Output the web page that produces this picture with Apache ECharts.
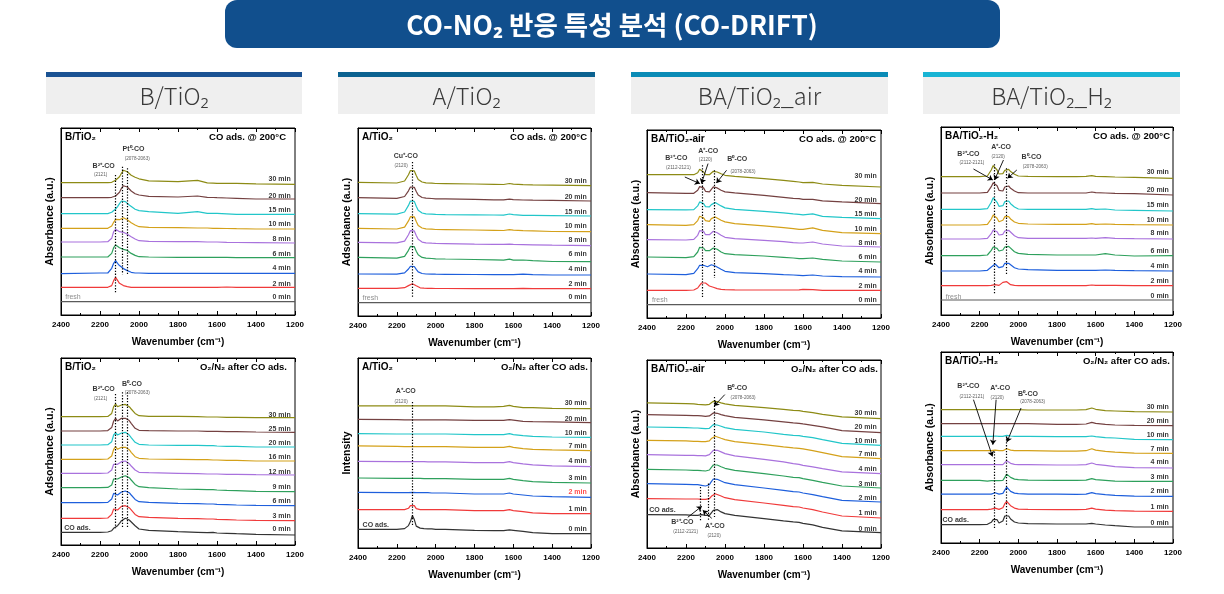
<!DOCTYPE html>
<html><head><meta charset="utf-8">
<script src="https://cdn.jsdelivr.net/npm/echarts@6/dist/echarts.min.js"></script>
<style>html,body{margin:0;padding:0;background:#fff}#c{width:1224px;height:594px}</style>
</head><body><div id="c"></div>
<script>
// ---------------- DATA ----------------
// shared wavenumber grid (cm-1)
const W = [2400,2200,2160,2140,2130,2120,2110,2100,2090,2080,2070,2060,2050,2040,2020,2000,1950,1800,1700,1650,1620,1600,1550,1500,1400,1200];
const xTickStep = 200;

const topTimes = ['0 min','2 min','4 min','6 min','8 min','10 min','15 min','20 min','30 min'];
const p5Times  = ['0 min','3 min','6 min','9 min','12 min','16 min','20 min','25 min','30 min'];
const airTimes = ['0 min','1 min','2 min','3 min','4 min','7 min','10 min','20 min','30 min'];

const headerLabels = ['B/TiO₂','A/TiO₂','BA/TiO₂_air','BA/TiO₂_H₂'];
const panelNames = ['B/TiO₂','A/TiO₂','BA/TiO₂-air','BA/TiO₂-H₂','B/TiO₂','A/TiO₂','BA/TiO₂-air','BA/TiO₂-H₂'];
const panelConds = ['CO ads. @ 200°C','CO ads. @ 200°C','CO ads. @ 200°C','CO ads. @ 200°C',
  'O₂/N₂ after CO ads.','O₂/N₂ after CO ads.','O₂/N₂ after CO ads.','O₂/N₂ after CO ads.'];
const yNames = ['Absorbance (a.u.)','Adsorbance (a.u.)','Absorbance (a.u.)','Absorbance (a.u.)',
  'Adsorbance (a.u.)','Intensity','Absorbance (a.u.)','Absorbance (a.u.)'];
const leftTexts = ['fresh','fresh','fresh','fresh','CO ads.','CO ads.','CO ads.','CO ads.'];

// trace baselines (a.u., stacking offsets, bottom -> top)
const p1Off = [13.3,27.7,41.7,57.3,72,86,100.7,116,130.7];
const p2Off = [13.3,27.3,41,54.3,70.3,84.3,100,115,130.3];
const p3Off = [13.4,27.7,41,56,71,84.4,99.4,114.4,131];
const p4Off = [15,29.3,44,59.3,76,90,104,120,136.7];
const p5Off = [10,24.3,39.3,53.3,70,84,98,112.7,127.3];
const p6Off = [14.4,34.4,50.7,65,81.4,97.4,110.7,125.4,139.4];
const p7Off = [15.4,30,46,60,74.4,89.4,102.7,115.4,129.4];
const p8Off = [16,31.6,46.6,61.6,75,89.6,103.3,117.3,131];

// time label heights (a.u.)
const p1LabY = [18.3,31,46.7,61,75.7,91,104.7,119.3,135.7];
const p2LabY = [18.7,32,47,61.7,76.3,90,104.3,119,135.3];
const p3LabY = [18.4,32,47,61,75.4,89.4,103.7,118.4,142];
const p4LabY = [19,34,49.3,64,81.7,94.7,110,124.7,142.7];
const p5LabY = [16,29,44,58.3,72.7,87.7,102.3,116,130];
const p6LabY = [19.4,39.4,56,70.4,86.7,102,115,129.4,145];
const p7LabY = [19.4,35.4,50,64.4,79.4,94,107.4,121,135.4];
const p8LabY = [19.6,35.6,51.6,66,80.6,94.3,108.3,121.6,136];

// spectra (absorbance above baseline, one row per time, bottom -> top)
const p1Spec = [
 [0,0,0,0,0,0,0,0,0,0,0,0,0,0,0,0,0,0,0,0,0,0,0,0,0,0],
 [0,0,0,1.7,6.7,10,8,4,2.3,1.7,1,0.7,0.3,0,0,0,0,0,0,0,0,0,0.3,0,0,0],
 [-0.3,0.3,0.3,5,10,12.7,10,7.7,5.7,4.7,3.3,2.7,1.7,1,0.3,0.3,0,0,0,0,0,0,0,0,0,0],
 [0.7,0.7,0.7,4.3,10,12.7,10.7,10,9.3,8.3,8,7.3,6,4.3,2.3,1,0.7,0.3,0.3,0.3,0.3,0.3,0.3,0,0,0],
 [1,1,1.3,4.7,11.3,13.7,12,11.3,11,10.7,10,8.7,7.5,6.3,4,2.3,1.7,1.3,1.3,1,1,1,0.7,0.5,0.3,0],
 [0.7,0.7,0.7,3,6.7,9.7,8,9.3,10.7,11.3,10.7,9.3,8,6.3,4,2.3,1.7,1.3,1,1,0.7,0.7,0.5,0.3,0,0],
 [0.7,0.7,0.7,2,2.7,5.3,7.7,10.7,13.3,14,12.7,11,9.3,7.3,5,3.7,2.7,1,2.7,1,1,1,0.5,0,0,0],
 [1.3,1.3,1.3,1.7,2,3,4.5,6.7,10.7,13.3,13.3,12,10,8,5.3,4,2.7,2,3,1.7,1.5,1.3,1,0.7,0,0],
 [1.7,1.7,1.7,2,2.7,4,6,7.5,11,14,14,12.5,11,9,7,5.5,3.5,2.7,4,1.5,1.2,1,1,1,0.5,0]
];
const p2Spec = [
 [0,0,0,0,0,0,0,0,0,0,0,0,0,0,0,0,0,0,0,0,0,0,0,0,0,0],
 [0.3,0.3,1,3.1,4.5,5,4.4,2.9,1.5,0.9,0.6,0.5,0.4,0.3,0.3,0.2,0.2,0.1,0.1,0.1,0.1,0.1,0.4,0.1,0,0],
 [1,0.8,2.1,6,8.6,9.5,8.5,5.6,3.1,2,1.5,1.2,1,1,0.9,0.8,0.7,0.5,0.4,0.4,0.4,0.4,0.9,0.3,0,0],
 [4.3,3.6,5.4,11.4,15.3,16.6,15,10.5,6.9,5.1,4.3,3.9,3.6,3.4,3.2,2.9,2.7,2.2,1.8,1.6,2.5,1.6,1.7,1.1,0.2,0],
 [3.3,2.8,4.6,10.9,15.1,16.4,14.8,10.3,6.4,4.6,3.6,3.1,2.9,2.7,2.5,2.3,2.1,1.5,1.4,1.3,1.6,1.3,1.1,0.9,0.5,0],
 [3.3,2.7,4.6,10.8,15,16.3,14.9,10.3,6.2,4.5,3.7,3.2,2.9,2.7,2.5,2.2,2.1,1.7,1.4,1.2,2,1.5,1,0.8,0.2,0],
 [2.3,1.9,4,10.6,15,16.5,14.6,9.8,5.8,3.9,3,2.6,2.2,2,1.9,1.6,1.4,1.2,1,0.9,2,1.3,0.7,0.6,0.4,0],
 [3.3,2.7,4.5,10.2,14,15.2,13.7,9.5,6,4.3,3.5,3.2,2.8,2.7,2.5,2.2,2.1,1.7,1.2,1.2,1.8,1.4,1,0.8,0.6,0],
 [3.3,2.7,4.7,11,15.2,16.5,14.8,10.2,6.3,4.5,3.7,3.2,2.9,2.7,2.5,2.2,2.1,1.7,1.4,1.2,2.2,1.6,1,0.8,0.6,0]
];
const p3Spec = [
 [0,0,0,0,0,0,0,0,0,0,0,0,0,0,0,0,0,0,0,0,0,0,0,0,0,0],
 [0,0,0.3,2.3,5,7.3,8.3,7.3,5.7,4.3,3.7,3,2.3,1.7,1,0.7,0.5,0.3,0.3,0.3,0.5,1,0.7,0,0,0],
 [3,2.3,3.7,8.3,11.7,12.3,11.7,11,10.3,11,12.3,12.3,11,9.7,7.7,5.7,4.3,3.3,2.3,2,1.7,1.3,2,1,0.3,0],
 [5,4.3,5.3,10,14.7,16,14,11.3,10,11.3,13.3,14,14,12.7,10,8.3,7.3,6,4.7,4,3.3,3.3,4,2.7,1,0],
 [7.3,7,7.7,11.7,16.3,17.7,15.7,12.3,11,12.3,14.3,15.7,15.7,14.3,11.7,9.7,8.3,6.7,5.3,4.3,4,4,5,3,1,0],
 [9,8.3,9,13,17.3,18.3,15.7,13,11.7,12.3,15,16.7,16.7,15.7,13.3,11.7,10,7.7,6,5,4.3,4.3,5.7,3.3,1,0],
 [9,8.7,9,12.7,16.7,17.3,15,12,10.7,11.7,14,16,16,15,12.7,10.7,9.3,7.3,5.7,4.7,4.3,3.7,4.7,2.3,1.3,0],
 [11,10.3,10.3,13.3,17,18,15.7,12.3,11,11.7,14.3,16.7,17,15.7,13.3,11.7,10.7,8.3,6.3,5.3,5,4.3,4.3,2.7,1.7,0],
 [12.3,12.3,12.3,14.3,17.7,18.3,15,12.3,11.3,12.3,14.3,15.7,15.7,15,13.3,11.7,10.7,8.3,6.7,5.7,5,4.3,4.7,3,1.7,0]
];
const p4Spec = [
 [0,0,0,0,0,0,0,0,0,0,0,0,0,0,0,0,0,0,0,0,0,0,0,0,0,0],
 [0,0,0,0.3,1,1,0.3,0.3,0.7,3.3,5,4,2,1,0.3,0,0,0,0,0,0.7,0.3,0.3,0.3,0,0],
 [0,0,0.7,4,6,7,5.3,3.3,2.7,4.3,7.7,8.7,7.7,6,3.3,2,1.3,0.7,0.7,0.7,0.7,0.7,1,0.7,0.3,0],
 [0,0,0.7,5.3,8.7,9.7,7.3,4.7,4,5.7,8.7,9.7,9.3,7.3,4,2.3,1.3,0.7,0.7,0.7,0.7,0.7,2,0.7,-0.3,0],
 [0,0,0.7,5.3,9,10,7.3,4,3.3,4.7,8,9,8.7,6.7,3.3,1.3,0.7,0.7,0.7,0.7,1,0.7,1.3,0.7,0.3,0],
 [0,0,0.7,6,10,10.7,6.7,3.3,2.7,4.7,8.3,9.3,8.3,6,3,1.7,1,0.7,0.7,0.7,1.3,0.7,1,0.7,0.3,0],
 [1.7,1.7,2.3,8.7,13.3,14.3,8.7,4.7,3.7,5.3,9.3,10.7,10,7.3,4,2,1.7,1.7,1.7,1.7,2.3,1.7,2,1,0.7,0],
 [2,2,2.7,8.3,12.3,13.3,9.3,4.7,2.7,4,8,10,9,6.7,4,2.3,2,2,2,2,3,2.3,2,1.7,1.3,0],
 [1.7,1.7,2.3,8.3,12.7,13.3,8.3,4.3,3.3,4.7,8,9.3,9,6.7,4,2.3,2,1.7,1.7,2,2.7,2,1.7,1.3,1,0]
];
const p5Spec = [
 [2.7,2.7,3,4.3,6.7,8.7,9.3,11.7,14.3,16,16.7,16,15,13.3,9.3,6,4.7,3.3,2.7,2.3,2.7,2,1.7,1.3,0.7,0],
 [2.3,2.3,2.7,6.3,11.7,13,10.7,12.3,14.3,15.7,15,14,13,11,6.3,4,3.3,2.3,2,1.7,1.7,1.3,1,0.7,0.3,0],
 [3,3,3.3,6.7,12.3,13.3,10.7,12,13.7,14.7,14.7,14,13,10.7,6.3,4,3.3,2.3,2,1.7,1.7,1.3,1,0.7,0.3,0],
 [4,4,4.3,6.7,12.7,14,12.7,13.3,14.7,15.7,16,15.3,14,11.7,7.3,5,4,2.7,2.3,2,2,1.7,1.3,1,0.3,0],
 [1.7,1.7,2,5,10.7,12.7,10.7,11.7,13.3,14.3,14,12.7,11.3,9,5,2.7,2.3,1.7,1.3,1,1,1,0.7,0.7,0.3,0],
 [1.7,1.7,2,5,11.7,14.3,11.7,12.7,13.7,14.3,13.7,12.7,11.3,8.7,4.3,2.7,2,1.7,1.3,1.3,1,1,0.7,0.7,0,0],
 [2,2,2.3,5.3,12,14.3,12,12.7,14,14.7,14.7,13.7,12,9.3,4.7,2.7,2,1.7,1.7,1.3,1.3,1,0.7,0.7,0,0],
 [1.3,1.3,1.7,4.7,11.3,14,11.3,12.3,14,14.7,14,13,11.7,9,4,2,1.7,1.3,1.3,1,1,1,0.7,0.7,0.3,0],
 [1,1,1.3,4.3,11,13.7,11,11.7,12.7,13.3,13.3,12.7,11,8.7,4.3,2,1.3,1.3,1,0.7,0.7,0.7,0.3,0.3,0,0]
];
const p6Spec = [
 [4.3,4.3,5,8,12,18,14,7.5,6,5.5,5.3,5,5,4.7,4.7,4.3,4.3,3.3,3,3,3.7,3.3,2.3,1,0,0],
 [4,4,4,5.3,8,10,8,5,4,4,4,4,4,4,4,4,4,3,3,3,4,3,2,0.7,0,0],
 [5,4.7,4.7,4.7,4.7,5,4.7,4.7,4.7,4.7,4.7,4.7,4.7,4.7,4.3,4.3,4.3,3.3,3.3,3.3,4.3,3.3,2.3,1.3,0.7,0],
 [5,4.7,4.7,4.7,4.7,4.7,4.7,4.7,4.7,4.7,4.7,4.3,4.3,4.3,4.3,4.3,4.3,3.7,3.7,3.7,4.7,3.7,2.3,1.3,0.7,0],
 [5.3,5,5,5,5,5,5,5,5,5,5,5,4.7,4.7,4.7,4.7,4.7,4,4,4,5,4,2.7,1.7,0.7,0],
 [4.7,4.3,4,4,4,4,4,4,4,4,4,4,4,4,4,4,4,3.3,3.3,3.3,4.3,3.3,2,1.3,0.7,0],
 [3.7,3.3,3.3,3.3,3.3,3.3,3.3,3.3,3.3,3.3,3.3,3.3,3.3,3.3,3.3,3.3,3.3,2.7,2.7,2.7,3.7,2.7,1.7,1,0.3,0],
 [3.3,3,2.7,2.7,2.7,2.7,2.7,2.7,2.7,2.7,2.7,2.7,2.7,2.7,2.7,2.7,2.7,2.3,2.3,2.3,3,2.5,1.3,1,0.7,0],
 [2.7,2.7,2.7,2.7,2.7,2.8,2.7,2.7,2.7,2.7,2.7,2.7,2.7,2.7,2.7,2.7,2.7,1.7,1.7,2.2,3.3,2.3,1,1,0.3,0]
];
const p7Spec = [
 [18,17.7,17.3,17.3,17.7,18,17.7,17.3,17,17.3,19.3,22.3,24,23,20.7,19,17.3,14,11.7,10.7,10.3,9.3,7.7,5.3,1.7,0],
 [19.3,19,19,19,19,18.7,18.7,18.7,18.7,19.3,21.7,23.7,24.3,23.7,22,20.3,18.3,15,12.7,11.3,11,10,8.3,6,2,0],
 [18.3,17.7,17.3,17.3,17,16.7,16.3,16,16.3,17.3,20.3,23,23.3,22.7,21,19.3,17.3,14,11.7,10.3,10,9,7.3,5.3,1.7,0],
 [18.7,18,17.7,17.7,17.7,17.3,17.3,17,17,18,20.7,23,23.7,23,21.3,19.7,17.7,14.3,12,10.7,10.3,9.3,7.7,5.7,2,0],
 [19,18.3,18.3,18,18,18,17.7,17.7,18,19,21,23.3,24,23.3,21.7,20,17.7,14.3,11.7,10,9.3,8.3,6.7,5,1.7,0],
 [18.3,17.7,17.3,17.3,17.3,17,17,17,17,17.7,20,22,22.3,21.7,20.3,19,17,14,11.7,10.7,10.3,9.7,8,6,2,0],
 [18.3,17.7,17.3,17.3,17.3,17,17,16.7,16.7,17,19,20.7,21,20.3,19,17.7,16,13.3,11,10,9.7,9,7.7,5.7,2,0],
 [18,17.3,17,17,17,16.7,16.7,16.3,16.3,16.7,18.3,19.7,20,19.3,18,17,15.3,12.7,10.7,9.7,9.3,8.7,7.3,5.7,2,0],
 [15.7,15,14.7,14.3,14.3,14,14,13.7,13.7,14.3,16,17.3,17.7,17,15.7,14.7,13.3,11,9.3,8.3,8,7.3,6,4.3,1.7,0]
];
const p8Spec = [
 [2.3,2.3,2.7,4.7,7.3,9,7.3,4,3,6,11,13,11,8,5,4,3.3,3,3,3,3.7,3,2,1.3,0,0],
 [1.7,1.7,1.7,2.3,3,3.3,2.7,2,2.3,3.7,7.7,10,8.3,5.7,3.3,2.3,2,1.7,1.7,2,3.3,2.3,1.3,0.7,0.3,0],
 [2.3,2.3,2.3,2.3,2.7,3.7,3,2.3,2.3,3,6.3,9.3,7.7,5,3.3,2.7,2.3,2.3,2,2.3,3.7,2.7,1.7,1,0.3,0],
 [1,1,0.3,0.7,0.7,0.7,0.7,0.7,0.7,1,4,7.3,6,4,2.3,1.7,1.3,1,1,1.3,2.7,1.7,1,0.3,0,0],
 [3.3,3.3,3.3,3.3,3.3,3.3,3.3,3.3,3.3,3.3,5,7.3,6.3,4.7,3.7,3.3,3.3,3,3,3.3,5,3.7,2.7,1.3,0.3,0],
 [2.7,2.7,2.7,2.7,3,3.3,3,2.7,2.7,2.7,3.7,4.7,4.3,3.3,2.7,2.7,2.7,2.3,2.3,2.7,4.7,3.3,2,1.3,0.3,0],
 [3.3,3.3,3.3,3.3,3.3,3.7,3.3,3.3,3.3,3.3,3.7,4.3,4,3.7,3.3,3.3,3.3,3,3,3,3.7,3,2,1.7,0.3,0],
 [2,2,2,2,2,2,2,2,2,2,2,2,2,2,2,2,2,1.3,1.3,1.7,3.3,2.3,1.3,0.7,0.3,0],
 [2.3,2.3,2.3,2.3,2.3,2.3,2.3,2.3,2.3,2.3,2.3,2.3,2.3,2.3,2.3,2.3,2,2,2,2.3,4,2.7,1.3,1,0.3,0]
];

// peak annotations [wavenumber, a.u., text, kind]
const p1Notes = [[2181,149.3,'B²⁺-CO','b'],[2197,140,'(2121)','s'],[2028,165.7,'Pt⁰-CO','b'],[2009,156.7,'(2078-2063)','s']];
const p2Notes = [[2154,160,'Cu⁺-CO','b'],[2178,150.3,'(2120)','s']];
const p3Notes = [[2250,160,'B²⁺-CO','b'],[2239,150.4,'(2112-2121)','s'],[2086,167.4,'A⁺-CO','b'],[2100,158.4,'(2120)','s'],[1937,158.7,'B⁰-CO','b'],[1908,146,'(2078-2063)','s']];
const p4Notes = [[2258,161,'B²⁺-CO','b'],[2240,152.7,'(2112-2121)','s'],[2089,168.3,'A⁺-CO','b'],[2104,158.7,'(2120)','s'],[1932,158.3,'B⁰-CO','b'],[1913,148.3,'(2078-2063)','s']];
const p5Notes = [[2181,155.7,'B²⁺-CO','b'],[2197,146,'(2121)','s'],[2036,160.7,'B⁰-CO','b'],[2009,152.3,'(2078-2063)','s']];
const p6Notes = [[2154,156.7,'A⁺-CO','b'],[2178,146.7,'(2120)','s']];
const p7Notes = [[1937,160.4,'B⁰-CO','b'],[1907,150.4,'(2078-2063)','s'],[2219,26,'B²⁺-CO','b'],[2202,16,'(2112-2121)','s'],[2052,22,'A⁺-CO','b'],[2056,12.7,'(2120)','s']];
const p8Notes = [[2258,156.6,'B²⁺-CO','b'],[2240,146.6,'(2112-2121)','s'],[2094,155,'A⁺-CO','b'],[2109,145.6,'(2120)','s'],[1950,149,'B⁰-CO','b'],[1926,141,'(2078-2063)','s']];

// dotted guide lines [wavenumber, top, bottom]
const p1Dots = [[2121,140,21.7],[2085,148.3,40.7],[2060,146.7,40.7]];
const p2Dots = [[2120,154,18.3]];
const p3Dots = [[2118,152.7,21],[2056,147.7,40]];
const p4Dots = [[2123,150.7,20.7],[2063,146.7,40.7]];
const p5Dots = [[2121,151,16.7],[2086,152.7,16.7],[2060,152.7,16.7]];
const p6Dots = [[2120,146,22.7]];
const p7Dots = [[2056,151,31],[2125,61,27.7],[2085,64.4,27.7]];
const p8Dots = [[2127,91.6,15],[2061,106.6,17.6]];

// arrows [w1, y1, w2, y2] (arrowhead at 2nd point)
const p3Arrows = [[2206,141,2129,134.4],[2087,154.4,2121,134.4],[1992,147.7,2044,135]];
const p4Arrows = [[2232,146,2132,135],[2077,155,2123,135],[2008,145,2056,136.7]];
const p7Arrows = [[2001,153.4,2056,142],[2191,30.7,2119,41.7],[2068,29.7,2114,37.7]];
const p8Arrows = [[2232,143.3,2134,86.6],[2115,143.3,2132,98.3],[1986,135,2059,101]];

// "fresh"/"CO ads." label anchors [wavenumber, a.u.]
const leftAnchors = [[2381,18.3],[2379,18.3],[2377,18.4],[2378,18.3],[2386,17.3],[2379,23.4],[2391,38.4],[2395,22.6]];

// ---------------- LAYOUT / STYLE ----------------
const FONT = '"Liberation Sans", Arial, Helvetica, sans-serif';
const KFONT = '"Noto Sans CJK KR", "Noto Sans", sans-serif';
const grids = [
 {left:61, top:128, width:234, height:187},
 {left:358, top:128, width:233, height:188},
 {left:647, top:130, width:234, height:188},
 {left:941, top:127, width:232, height:188},
 {left:61, top:358, width:234, height:187},
 {left:358, top:358, width:233, height:190},
 {left:647, top:360, width:234, height:188},
 {left:941, top:352, width:232, height:191}
];
const rightInset = [9,4,5,3,8,3,3,3];
const traceColors = ['#5a5a5a','#f03a3a','#1e5fdc','#2ea05c','#a972dd','#d4a11a','#22c6c9','#744141','#8d8b15'];
const colX = [46,338,631,923], colW = [256,257,257,257];
const colColors = ['#1a5293','#0b6290','#0a8bb6','#18b4d4'];

const P = [
 {times:topTimes, off:p1Off, lab:p1LabY, spec:p1Spec, notes:p1Notes, dots:p1Dots, arrows:[]},
 {times:topTimes, off:p2Off, lab:p2LabY, spec:p2Spec, notes:p2Notes, dots:p2Dots, arrows:[]},
 {times:topTimes, off:p3Off, lab:p3LabY, spec:p3Spec, notes:p3Notes, dots:p3Dots, arrows:p3Arrows},
 {times:topTimes, off:p4Off, lab:p4LabY, spec:p4Spec, notes:p4Notes, dots:p4Dots, arrows:p4Arrows},
 {times:p5Times, off:p5Off, lab:p5LabY, spec:p5Spec, notes:p5Notes, dots:p5Dots, arrows:[]},
 {times:airTimes, off:p6Off, lab:p6LabY, spec:p6Spec, notes:p6Notes, dots:p6Dots, arrows:[]},
 {times:airTimes, off:p7Off, lab:p7LabY, spec:p7Spec, notes:p7Notes, dots:p7Dots, arrows:p7Arrows},
 {times:airTimes, off:p8Off, lab:p8LabY, spec:p8Spec, notes:p8Notes, dots:p8Dots, arrows:p8Arrows}
];

const xAxes = [], yAxes = [], series = [], graphics = [];
const axisCommon = {type:'value', min:1200, max:2400, interval:xTickStep, inverse:true,
  axisLine:{show:true, onZero:false, lineStyle:{color:'#000', width:1}},
  axisTick:{show:true, inside:true, length:4, lineStyle:{color:'#000', width:1}},
  minorTick:{show:true, splitNumber:2, length:2, lineStyle:{color:'#000', width:1}},
  splitLine:{show:false}, minorSplitLine:{show:false}};

grids.forEach((g,i)=>{
  xAxes.push(Object.assign({}, axisCommon, {gridIndex:i, position:'bottom',
    axisLabel:{color:'#000', fontSize:8, fontWeight:'bold', fontFamily:FONT, margin:6, formatter:v=>String(v)},
    name:'Wavenumber (cm⁻¹)', nameLocation:'middle', nameGap:22,
    nameTextStyle:{color:'#000', fontSize:10, fontWeight:'bold', fontFamily:FONT}}));
  yAxes.push({gridIndex:i, type:'value', min:0, max:g.height,
    axisLine:{show:true, lineStyle:{color:'#000'}}, axisTick:{show:false}, axisLabel:{show:false}, splitLine:{show:false},
    name:yNames[i], nameLocation:'middle', nameGap:5, nameRotate:90,
    nameTextStyle:{color:'#000', fontSize:10.5, fontWeight:'bold', fontFamily:FONT}});
});
grids.forEach((g,i)=>{
  xAxes.push(Object.assign({}, axisCommon, {gridIndex:i, position:'top', axisLabel:{show:false}}));
});

P.forEach((p,i)=>{
  const bottomRow = i>=4;
  p.spec.forEach((arr,j)=>{
    const col = (j===0 && bottomRow) ? '#333333' : traceColors[j];
    const s = {type:'line', xAxisIndex:i, yAxisIndex:i, symbol:'none', showSymbol:false, silent:true,
      lineStyle:{width:1.2, color:col}, z:2,
      data: W.map((w,k)=>[w, p.off[j] + arr[k]])};
    if(j===0 && p.dots.length){
      s.markLine = {silent:true, symbol:['none','none'], label:{show:false}, animation:false,
        lineStyle:{type:[1.3,1.6], color:'#000', width:1.2},
        data: p.dots.map(d=>[{coord:[d[0],d[1]]},{coord:[d[0],d[2]]}])};
    }
    if(j===1 && p.arrows.length){
      s.markLine = {silent:true, symbol:['none','arrow'], symbolSize:5, label:{show:false}, animation:false,
        lineStyle:{type:'solid', color:'#000', width:0.9},
        data: p.arrows.map(a=>[{coord:[a[0],a[1]]},{coord:[a[2],a[3]]}])};
    }
    series.push(s);
  });
  // peak labels
  series.push({type:'scatter', xAxisIndex:i, yAxisIndex:i, symbolSize:1, silent:true, z:6,
    itemStyle:{color:'rgba(0,0,0,0)'},
    label:{show:true, position:'inside', fontFamily:FONT, color:'#000'},
    data: p.notes.map(n=>({value:[n[0],n[1]], label: n[3]==='b'
      ? {formatter:n[2], fontSize:7, fontWeight:'bold', color:'#000'}
      : {formatter:n[2], fontSize:4.6, fontWeight:'normal', color:'#333'}}))});
  // time labels
  series.push({type:'scatter', xAxisIndex:i, yAxisIndex:i, symbolSize:1, silent:true, z:6,
    itemStyle:{color:'rgba(0,0,0,0)'},
    label:{show:true, position:'left', distance:0, fontFamily:FONT, fontSize:7, fontWeight:'bold', color:'#000'},
    data: p.times.map((t,j)=>({value:[1219, p.lab[j]],
      label:{formatter:t, color:(i===5 && t==='2 min') ? '#ff2020' : '#000'}}))});
  // fresh / CO ads.
  const fresh = !bottomRow;
  series.push({type:'scatter', xAxisIndex:i, yAxisIndex:i, symbolSize:1, silent:true, z:6,
    itemStyle:{color:'rgba(0,0,0,0)'},
    label:{show:true, position:'right', distance:0, fontFamily:FONT, fontSize:7,
      fontWeight: fresh ? 'normal' : 'bold', color: fresh ? '#707070' : '#000', formatter:leftTexts[i]},
    data:[leftAnchors[i]]});
  // in-panel titles
  graphics.push({type:'text', left:grids[i].left+4, top:grids[i].top+4, silent:true,
    style:{text:panelNames[i], fill:'#000', fontSize:10, fontWeight:'bold', fontFamily:FONT}});
  graphics.push({type:'text', right:1224-(grids[i].left+grids[i].width)+rightInset[i], top:grids[i].top+4, silent:true,
    style:{text:panelConds[i], fill:'#000', fontSize:9.5, fontWeight:'bold', fontFamily:FONT}});
});

// header
graphics.push({type:'rect', silent:true, shape:{x:225, y:0, width:775, height:48, r:12}, style:{fill:'#114f8d'}});
graphics.push({type:'text', silent:true, x:612, y:25,
  style:{text:'CO-NO₂ 반응 특성 분석 (CO-DRIFT)', fill:'#fff', fontSize:26.5, fontWeight:'bold', fontFamily:KFONT,
    align:'center', verticalAlign:'middle', textAlign:'center', textVerticalAlign:'middle'}});
colX.forEach((x,i)=>{
  graphics.push({type:'rect', silent:true, shape:{x:x, y:72, width:colW[i], height:5}, style:{fill:colColors[i]}});
  graphics.push({type:'rect', silent:true, shape:{x:x, y:77, width:colW[i], height:37}, style:{fill:'#efefef'}});
  graphics.push({type:'text', silent:true, x:x+colW[i]/2, y:96,
    style:{text:headerLabels[i], fill:'#3a3a3a', fontSize:23.5, fontWeight:300, fontFamily:KFONT,
      align:'center', verticalAlign:'middle', textAlign:'center', textVerticalAlign:'middle'}});
});

const chart = echarts.init(document.getElementById('c'), null, {renderer:'canvas', width:1224, height:594});
chart.setOption({
  animation:false, backgroundColor:'#ffffff',
  grid: grids.map(g=>Object.assign({show:true, borderColor:'#000', borderWidth:1, backgroundColor:'transparent'}, g)),
  xAxis:xAxes, yAxis:yAxes, series:series, graphic:graphics
});
</script></body></html>
